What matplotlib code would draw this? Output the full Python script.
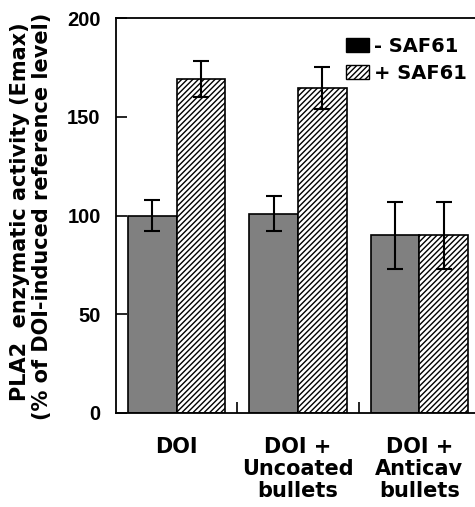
import numpy as np
import matplotlib
matplotlib.use('Agg')
import matplotlib.pyplot as plt
from matplotlib.patches import Patch

# data
groups = ['DOI', 'DOI +\nUncoated\nbullets', 'DOI +\nAnticav\nbullets']
minus_saf = [100, 101, 90]
minus_err = [8, 9, 17]
plus_saf = [169, 164.5, 90]
plus_err = [9, 10.5, 17]
yticks = [0, 50, 100, 150, 200]

lab_font = 'DejaVu Sans'
tick_font = 'Liberation Sans'

plt.rcParams['hatch.linewidth'] = 1.0

fig = plt.figure(figsize=(4.75, 5.07), dpi=100)
# axes runs slightly past the right edge, as in the original
ax = fig.add_axes([116/475, 94/507, 364/475, 395/507])

x = np.arange(len(groups))
w = 0.4
ax.bar(x - w/2, minus_saf, w, color='#808080', edgecolor='black', linewidth=1.2, zorder=2)
ax.bar(x + w/2, plus_saf, w, color='white', edgecolor='black', linewidth=1.2,
       hatch='//////', zorder=2)
ax.errorbar(x - w/2, minus_saf, yerr=minus_err, fmt='none', ecolor='black',
            elinewidth=1.5, capsize=6, capthick=1.5, zorder=3)
ax.errorbar(x + w/2, plus_saf, yerr=plus_err, fmt='none', ecolor='black',
            elinewidth=1.5, capsize=6, capthick=1.5, zorder=3)

ax.set_xlim(-0.5, 2.5)
ax.set_ylim(0, 200)
ax.set_yticks(yticks)
ax.set_yticklabels([str(t) for t in yticks], fontfamily=tick_font,
                   fontweight='bold', fontsize=14.5)
ax.tick_params(axis='y', direction='in', length=8, width=1.2, pad=11)

ax.set_xticks(x)
ax.set_xticklabels(groups, fontfamily=lab_font, fontweight='bold', fontsize=15,
                   linespacing=1.15)
ax.tick_params(axis='x', which='major', length=0, pad=17)
ax.set_xticks([0.5, 1.5], minor=True)
ax.tick_params(axis='x', which='minor', direction='in', length=8, width=1.2)

for s in ax.spines.values():
    s.set_linewidth(1.3)

fig.text(20/475, 1 - 212/507, 'PLA2  enzymatic activity (Emax)', rotation=90,
         ha='center', va='center', fontfamily=lab_font, fontweight='bold', fontsize=15)
fig.text(42/475, 1 - 216/507, '(% of DOI-induced reference level)', rotation=90,
         ha='center', va='center', fontfamily=lab_font, fontweight='bold', fontsize=15)

handles = [Patch(facecolor='black', edgecolor='black'),
           Patch(facecolor='white', edgecolor='black', hatch='//////')]
fig.legend(handles, ['- SAF61', '+ SAF61'], loc='upper left',
           bbox_to_anchor=(346/475, 1 - 37/507), frameon=False, borderpad=0,
           borderaxespad=0, handlelength=1.2, handleheight=0.75,
           handletextpad=0.25, labelspacing=0.4,
           prop={'family': lab_font, 'weight': 'bold', 'size': 14})

fig.savefig('out.png', dpi=100)
